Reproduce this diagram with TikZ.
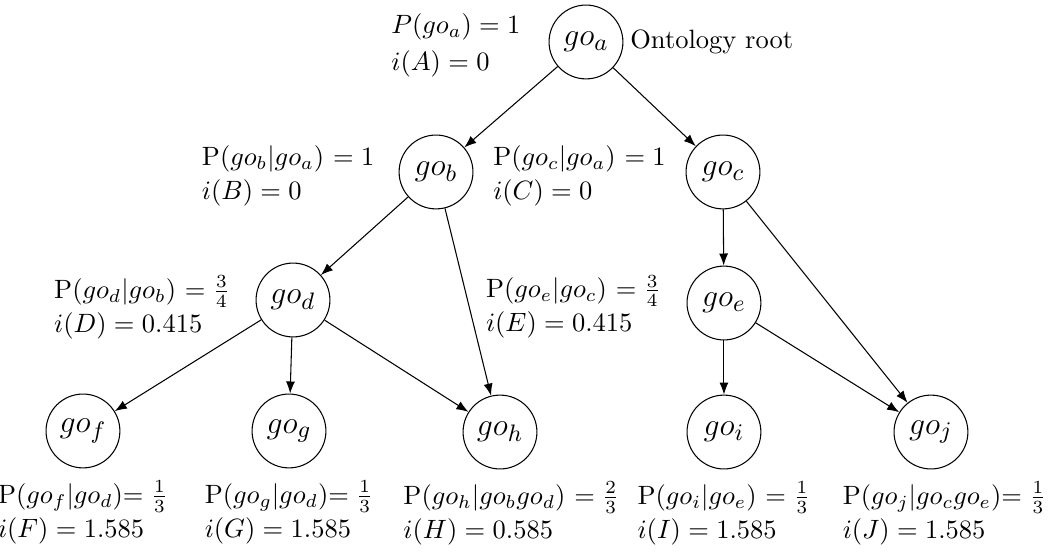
\documentclass[tikz,border=0pt]{standalone}
\usepackage{amsmath,amssymb}
\usetikzlibrary{positioning, arrows.meta}
\tikzset{
  term/.style={draw, circle, minimum size=9.8mm, inner sep=0pt, font=\fontsize{13}{15}\selectfont},
  info/.style={align=left, inner sep=1pt, font=\normalsize},
  >={Latex[length=1.6mm, width=1.2mm]},
}

\begin{document}
\begin{tikzpicture}
    \useasboundingbox (0,0) rectangle (14,-7.312);
    % tree nodes
    \node[term] (ga) at (7.776,-0.557) {$go_a$};
    \node[term] (gb) at (5.786,-2.282) {$go_b$};
    \node[term] (gc) at (9.594,-2.282) {$go_c$};
    \node[term] (gd) at (3.888,-3.981) {$go_d$};
    \node[term] (ge) at (9.607,-4.021) {$go_e$};
    \node[term] (gf) at (1.101,-5.719) {$go_f$};
    \node[term] (gg) at (3.835,-5.719) {$go_g$};
    \node[term] (gh) at (6.635,-5.733) {$go_h$};
    \node[term] (gi) at (9.607,-5.733) {$go_i$};
    \node[term] (gj) at (12.354,-5.733) {$go_j$};
    % annotations
    \node[info, left=0.33cm of ga, yshift=-0.04cm] (la) {$P(go_a) = 1$\\[2pt] $i(A) = 0$};
    \node[info, right=0.05cm of ga] (root) {Ontology root};
    \node[info, left=0.28cm of gb, yshift=-0.05cm] (lb) {P($go_b|go_a$) $= 1$\\[1pt] $i(B) = 0$};
    \node[info, left=0.22cm of gc, yshift=-0.05cm] (lc) {P($go_c|go_a$) $= 1$\\[1pt] $i(C) = 0$};
    \node[info, left=0.3cm of gd, yshift=-0.1cm] (ld) {P($go_d|go_b$) $= \frac{3}{4}$\\[1pt] $i(D) = 0.415$};
    \node[info, left=0.3cm of ge, yshift=-0.05cm] (le) {P($go_e|go_c$) $= \frac{3}{4}$\\[1pt] $i(E) = 0.415$};
    \node[info, below=0.12cm of gf] (lf) {P($go_f|go_d$)$=\frac{1}{3}$\\[1pt] $i(F) = 1.585$};
    \node[info, below=0.12cm of gg] (lg) {P($go_g|go_d$)$=\frac{1}{3}$\\[1pt] $i(G) = 1.585$};
    \node[info, below=0.12cm of gh, xshift=0.15cm] (lh) {P($go_h|go_bgo_d$) $= \frac{2}{3}$\\[1pt] $i(H) = 0.585$};
    \node[info, below=0.12cm of gi] (li) {P($go_i|go_e$) $= \frac{1}{3}$\\[1pt] $i(I) = 1.585$};
    \node[info, below=0.12cm of gj, xshift=0.18cm] (lj) {P($go_j|go_cgo_e$)$=\frac{1}{3}$\\[1pt] $i(J) = 1.585$};
    % edges
    \draw[->] (ga) -- (gb);
    \draw[->] (ga) -- (gc);
    \draw[->] (gb) -- (gd);
    \draw[->] (gb) -- (gh);
    \draw[->] (gc) -- (ge);
    \draw[->] (gc) -- (gj);
    \draw[->] (gd) -- (gf);
    \draw[->] (gd) -- (gg);
    \draw[->] (gd) -- (gh);
    \draw[->] (ge) -- (gi);
    \draw[->] (ge) -- (gj);
  \end{tikzpicture}
\end{document}
